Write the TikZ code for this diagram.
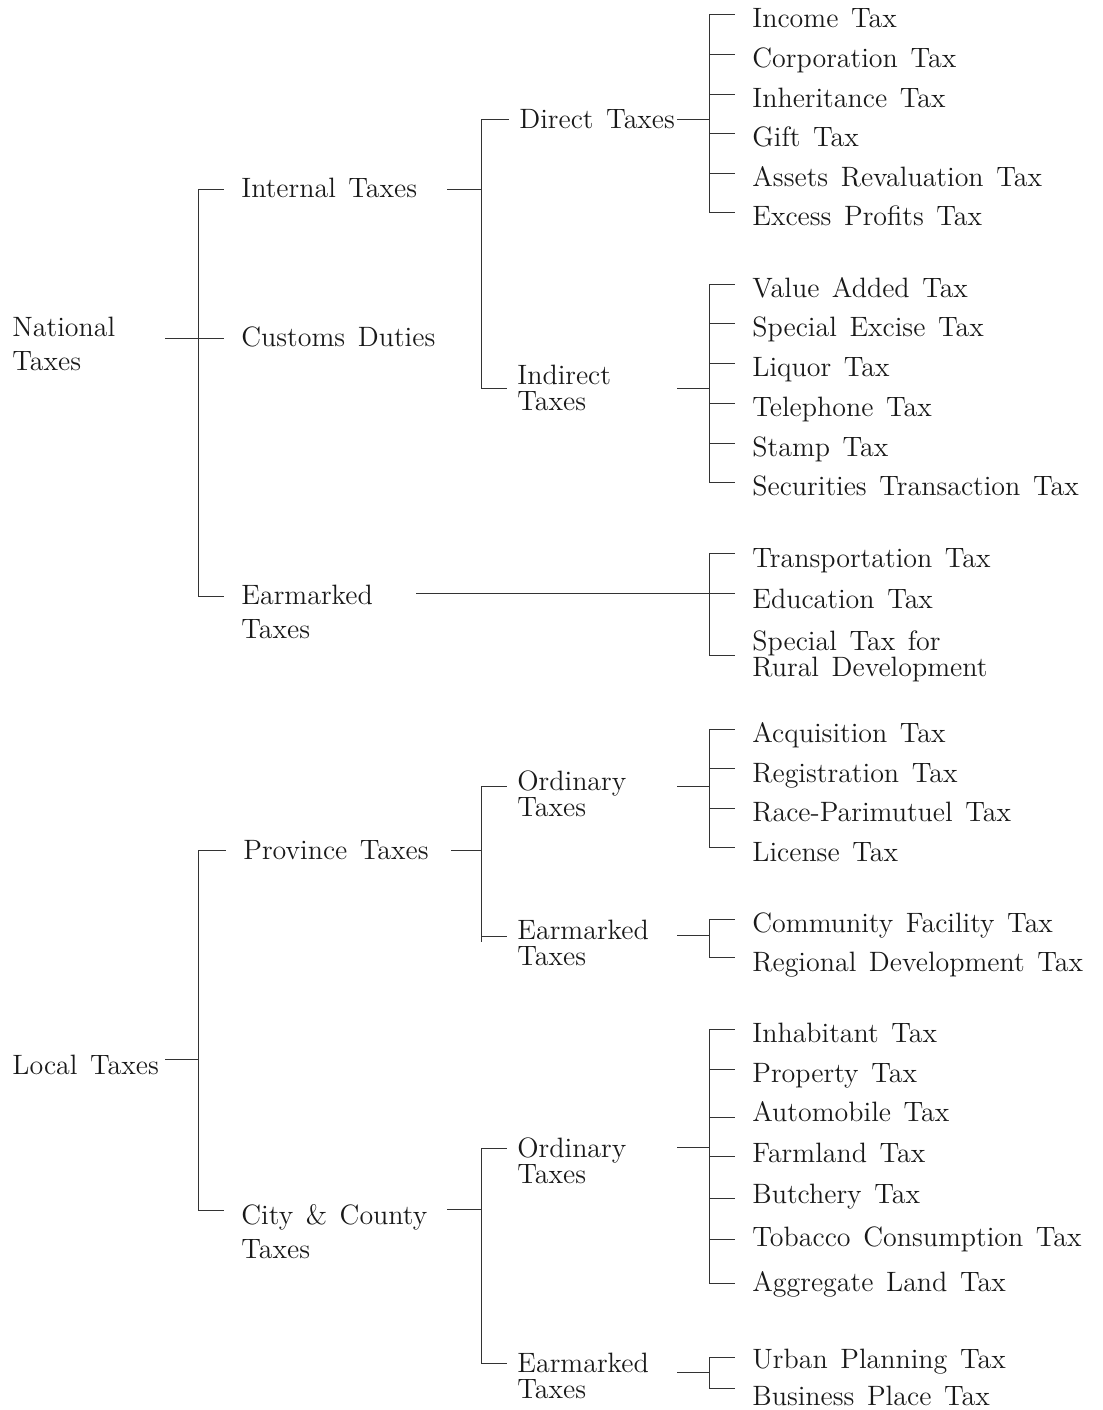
\documentclass[tikz,border=0pt]{standalone}
\newcommand\tfontW{\fontsize{14}{17}\selectfont\spaceskip=0.45em\relax}
\newcommand\tfontT{\fontsize{14}{13}\selectfont\spaceskip=0.45em\relax}
\begin{document}
\begin{tikzpicture}[x=0.5pt,y=-0.5pt,
  every node/.style={inner ysep=0pt, text=black!90, font=\tfontW},
  ln/.style={line width=0.45pt, draw=black!80},
  root/.style={anchor=base west, inner xsep=0pt, align=left},
  lone/.style={anchor=base west, inner xsep=8.5pt, align=left},
  ltwo/.style={anchor=base west, inner xsep=5pt, align=left},
  tight/.style={font=\tfontT},
  leaf/.style={anchor=base west, inner xsep=8.5pt, align=left},
]
\useasboundingbox[fill=white] (0,0) rectangle (1103,1410);

% ---------- text nodes (multi-line: anchor = baseline of last line) ----------
\node[root] (nat) at (12,370) {National\\Taxes};
\node[root] (loc) at (12,1074) {Local Taxes};

\node[lone] (int)  at (224,197) {Internal Taxes};
\node[lone] (cus)  at (224,346) {Customs Duties};
\node[lone] (ear1) at (224,638) {Earmarked\\Taxes};
\node[lone] (prov) at (226,859) {Province Taxes};
\node[lone] (city) at (224,1258) {City \& County\\Taxes};

\node[ltwo] (dir)  at (509,128) {Direct Taxes};
\node[ltwo,tight] (ind)  at (507,410) {Indirect\\Taxes};
\node[ltwo,tight] (ord1) at (507,816) {Ordinary\\Taxes};
\node[ltwo,tight] (ear2) at (507,965) {Earmarked\\Taxes};
\node[ltwo,tight] (ord2) at (507,1183) {Ordinary\\Taxes};
\node[ltwo,tight] (ear3) at (507,1398) {Earmarked\\Taxes};

\node[leaf] (i1) at (735,27)  {Income Tax};
\node[leaf] (i2) at (735,67)  {Corporation Tax};
\node[leaf] (i3) at (735,107) {Inheritance Tax};
\node[leaf] (i4) at (735,146) {Gift Tax};
\node[leaf] (i5) at (735,186) {Assets Revaluation Tax};
\node[leaf] (i6) at (735,225) {Excess Profits Tax};

\node[leaf] (j1) at (735,297) {Value Added Tax};
\node[leaf] (j2) at (735,336) {Special Excise Tax};
\node[leaf] (j3) at (735,376) {Liquor Tax};
\node[leaf] (j4) at (735,416) {Telephone Tax};
\node[leaf] (j5) at (735,456) {Stamp Tax};
\node[leaf] (j6) at (735,495) {Securities Transaction Tax};

\node[leaf] (k1) at (735,567) {Transportation Tax};
\node[leaf] (k2) at (735,608) {Education Tax};
\node[leaf,tight] (k3) at (735,676) {Special Tax for\\Rural Development};

\node[leaf] (p1) at (735,742) {Acquisition Tax};
\node[leaf] (p2) at (735,782) {Registration Tax};
\node[leaf] (p3) at (735,821) {Race-Parimutuel Tax};
\node[leaf] (p4) at (735,861) {License Tax};

\node[leaf] (q1) at (735,932) {Community Facility Tax};
\node[leaf] (q2) at (735,971) {Regional Development Tax};

\node[leaf] (c1) at (735,1042) {Inhabitant Tax};
\node[leaf] (c2) at (735,1082) {Property Tax};
\node[leaf] (c3) at (735,1121) {Automobile Tax};
\node[leaf] (c4) at (735,1162) {Farmland Tax};
\node[leaf] (c5) at (735,1203) {Butchery Tax};
\node[leaf] (c6) at (735,1246) {Tobacco Consumption Tax};
\node[leaf] (c7) at (735,1291) {Aggregate Land Tax};

\node[leaf] (u1) at (735,1368) {Urban Planning Tax};
\node[leaf] (u2) at (735,1405) {Business Place Tax};

% ---------- junction coordinates ----------
\coordinate (natR) at (165,338);
\coordinate (locR) at (165,1059);
\coordinate (intR) at (447,189);
\coordinate (ear1R) at (416,593);
\coordinate (provR) at (451,850);
\coordinate (cityR) at (447,1209);
\coordinate (dirR) at (677,119);
\coordinate (indR) at (677,388);
\coordinate (ord1R) at (677,786);
\coordinate (ear2R) at (677,935);
\coordinate (ord2R) at (677,1147);
\coordinate (ear3R) at (677,1372);

% ---------- National ----------
\draw[ln] (natR) -- (198,338);
\draw[ln] (198,189) -- (198,596);
\foreach \n/\y in {int/189,cus/338,ear1/596}
  \draw[ln] (198,\y) -- (\n.west |- 0,\y);

\draw[ln] (intR) -- (481,189);
\draw[ln] (481,119) -- (481,388);
\foreach \n/\y in {dir/119,ind/388}
  \draw[ln] (481,\y) -- (\n.west |- 0,\y);

\draw[ln] (dirR) -- (709,119);
\draw[ln] (709,14) -- (709,212);
\foreach \n/\y in {i1/14,i2/54,i3/94,i4/133,i5/173,i6/212}
  \draw[ln] (709,\y) -- (\n.west |- 0,\y);

\draw[ln] (indR) -- (709,388);
\draw[ln] (709,284) -- (709,482);
\foreach \n/\y in {j1/284,j2/323,j3/363,j4/403,j5/443,j6/482}
  \draw[ln] (709,\y) -- (\n.west |- 0,\y);

\draw[ln] (ear1R) -- (709,593);
\draw[ln] (709,553) -- (709,655);
\foreach \n/\y in {k1/553,k2/593,k3/655}
  \draw[ln] (709,\y) -- (\n.west |- 0,\y);

% ---------- Local ----------
\draw[ln] (locR) -- (198,1059);
\draw[ln] (198,850) -- (198,1210);
\foreach \n/\y in {prov/850,city/1210}
  \draw[ln] (198,\y) -- (\n.west |- 0,\y);

\draw[ln] (provR) -- (481,850);
\draw[ln] (481,786) -- (481,942);
\foreach \n/\y in {ord1/786,ear2/936}
  \draw[ln] (481,\y) -- (\n.west |- 0,\y);

\draw[ln] (ord1R) -- (709,786);
\draw[ln] (709,729) -- (709,847);
\foreach \n/\y in {p1/729,p2/768,p3/808,p4/847}
  \draw[ln] (709,\y) -- (\n.west |- 0,\y);

\draw[ln] (ear2R) -- (709,935);
\draw[ln] (709,919) -- (709,957);
\foreach \n/\y in {q1/919,q2/957}
  \draw[ln] (709,\y) -- (\n.west |- 0,\y);

\draw[ln] (cityR) -- (481,1209);
\draw[ln] (481,1148) -- (481,1363);
\foreach \n/\y in {ord2/1148,ear3/1363}
  \draw[ln] (481,\y) -- (\n.west |- 0,\y);

\draw[ln] (ord2R) -- (709,1147);
\draw[ln] (709,1029) -- (709,1283);
\foreach \n/\y in {c1/1029,c2/1069,c3/1117,c4/1156,c5/1198,c6/1239,c7/1283}
  \draw[ln] (709,\y) -- (\n.west |- 0,\y);

\draw[ln] (ear3R) -- (709,1372);
\draw[ln] (709,1357) -- (709,1388);
\foreach \n/\y in {u1/1357,u2/1388}
  \draw[ln] (709,\y) -- (\n.west |- 0,\y);
\end{tikzpicture}
\end{document}
